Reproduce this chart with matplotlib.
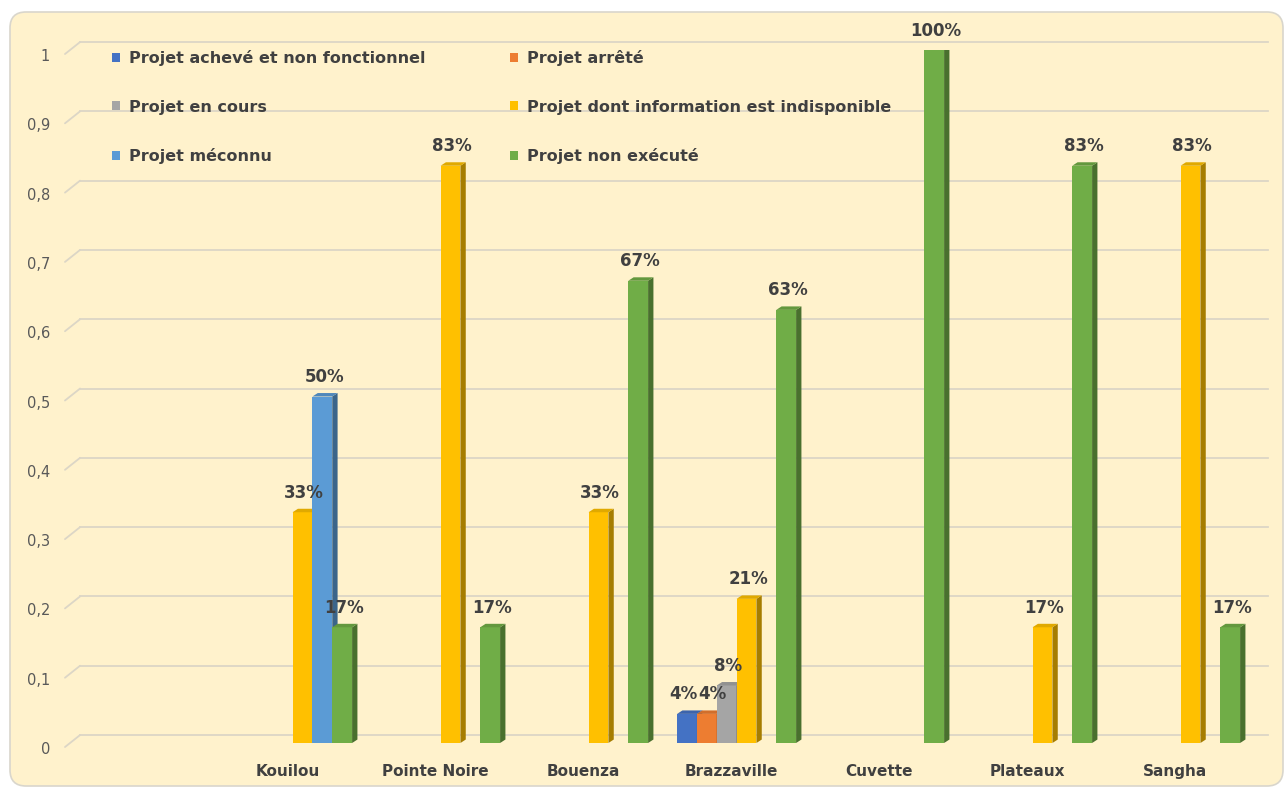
import math
import matplotlib
matplotlib.use("Agg")
import matplotlib.pyplot as plt
import matplotlib.colors as mcolors
from matplotlib.patches import Polygon, FancyBboxPatch, Patch

# ---------------- data ----------------
categories = ["", "Kouilou", "Pointe Noire", "Bouenza", "Brazzaville",
              "Cuvette", "Plateaux", "Sangha"]
series_names = ["Projet achevé et non fonctionnel", "Projet arrêté",
                "Projet en cours", "Projet dont information est indisponible",
                "Projet méconnu", "Projet non exécuté"]
acheve_non_fonctionnel = [0, 0, 0, 0, 0.042, 0, 0, 0]
arrete = [0, 0, 0, 0, 0.042, 0, 0, 0]
en_cours = [0, 0, 0, 0, 0.083, 0, 0, 0]
info_indisponible = [0, 0.333, 0.833, 0.333, 0.208, 0, 0.167, 0.833]
meconnu = [0, 0.5, 0, 0, 0, 0, 0, 0]
non_execute = [0, 0.167, 0.167, 0.667, 0.625, 1.0, 0.833, 0.167]
yticks = [0, 0.1, 0.2, 0.3, 0.4, 0.5, 0.6, 0.7, 0.8, 0.9, 1]
ytick_labels = ["0", "0,1", "0,2", "0,3", "0,4", "0,5", "0,6", "0,7", "0,8", "0,9", "1"]

series = [acheve_non_fonctionnel, arrete, en_cours, info_indisponible, meconnu, non_execute]
colors = ["#4472C4", "#ED7D31", "#A5A5A5", "#FFC000", "#5B9BD5", "#70AD47"]

# ---------------- figure ----------------
W, H = 1287, 787
fig = plt.figure(figsize=(W / 100, H / 100), dpi=100)
fig.patch.set_facecolor("white")
bg = FancyBboxPatch((0.10, 0.01), 12.73, 7.74, boxstyle="round,pad=0,rounding_size=0.16",
                    transform=fig.dpi_scale_trans, facecolor="#FFF2CC",
                    edgecolor="#D9D6CC", linewidth=1.2, zorder=-10)
fig.patches.append(bg)

ax = fig.add_axes([70.6 / W, (H - 743) / H, 1184 / W, 693 / H])
ax.set_zorder(1)
ax.set_facecolor("none")
ax.set_xlim(-0.5, 7.5)
ax.set_ylim(0, 1)
for s in ax.spines.values():
    s.set_visible(False)
ax.tick_params(length=0)
ax.set_yticks([])

text_col = "#404040"
grid_col = "#DCD6C6"
back = 0.0115
front = -0.0058
# gridlines (3D back wall + slanted floor start)
for v, lab in zip(yticks, ytick_labels):
    ax.plot([-0.538, -0.436], [v + front, v + back], color=grid_col, lw=1.3,
            clip_on=False, zorder=1, solid_capstyle="round")
    ax.plot([-0.436, 7.59], [v + back, v + back], color=grid_col, lw=1.3,
            clip_on=False, zorder=1)
    ax.text(-0.64, v - 0.0095, lab, ha="right", va="center", fontsize=10.5,
            color="#595959")

# bars with pseudo-3D faces
bw = 0.134
dx = 0.036
dy = 0.005
n = len(series)
labels_by_cat = {}
for i, (vals, col) in enumerate(zip(series, colors)):
    rgb = mcolors.to_rgb(col)
    side = tuple(c * 0.65 for c in rgb)
    top = tuple(c * 0.88 for c in rgb)
    for k, v in enumerate(vals):
        if v <= 0:
            continue
        xc = k + (i - (n - 1) / 2) * bw
        x0, x1 = xc - bw / 2, xc + bw / 2
        z = 2 + k * 0.1 + i * 0.01
        ax.bar(xc, v, width=bw, color=col, linewidth=0, zorder=z)
        ax.add_patch(Polygon([(x1, 0), (x1 + dx, dy), (x1 + dx, v + dy), (x1, v)],
                             closed=True, facecolor=side, edgecolor="none", zorder=z))
        ax.add_patch(Polygon([(x0, v), (x0 + dx, v + dy), (x1 + dx, v + dy), (x1, v)],
                             closed=True, facecolor=top, edgecolor="none", zorder=z))
        a = ax.annotate(f"{math.floor(v * 100 + 0.5)}%", (xc + dx / 3, v + dy),
                        xytext=(0, 5), textcoords="offset points", ha="center",
                        va="bottom", fontsize=12, fontweight="bold", color=text_col,
                        zorder=10, annotation_clip=False)
        labels_by_cat.setdefault(k, []).append(a)

ax.set_xticks([k - 0.035 for k in range(len(categories))])
ax.set_xticklabels(categories, fontsize=11, fontweight="bold", color=text_col)
ax.tick_params(axis="x", pad=15)

# legend (row-major order like the reference)
order = [0, 2, 4, 1, 3, 5]
handles = [Patch(facecolor=colors[j], edgecolor="none") for j in order]
labels = [series_names[j] for j in order]
leg = ax.legend(handles, labels, ncol=2, loc="upper left",
                bbox_to_anchor=(112 / W, 1 - 50 / H), bbox_transform=fig.transFigure,
                frameon=False, borderpad=0, borderaxespad=0, handlelength=0.5,
                handleheight=0.5, handletextpad=0.55, columnspacing=5.3,
                labelspacing=2.1, prop={"size": 11.5, "weight": "bold"})
leg.set_zorder(20)
for t in leg.get_texts():
    t.set_color(text_col)

# nudge data labels apart where they would collide (labels sit side by side)
fig.canvas.draw()
r = fig.canvas.get_renderer()
px2pt = 72 / fig.dpi
for k, anns in labels_by_cat.items():
    for j in range(1, len(anns)):
        bp = anns[j - 1].get_window_extent(r)
        bc = anns[j].get_window_extent(r)
        ov = bp.x1 - bc.x0 + 1
        if ov > 0 and bp.y0 < bc.y1 and bc.y0 < bp.y1:
            px, py = anns[j - 1].xyann
            anns[j - 1].xyann = (px - ov * 0.6 * px2pt, py)
            cx, cy = anns[j].xyann
            anns[j].xyann = (cx + ov * 0.4 * px2pt, cy)

fig.savefig("out.png", dpi=100, facecolor="white")
